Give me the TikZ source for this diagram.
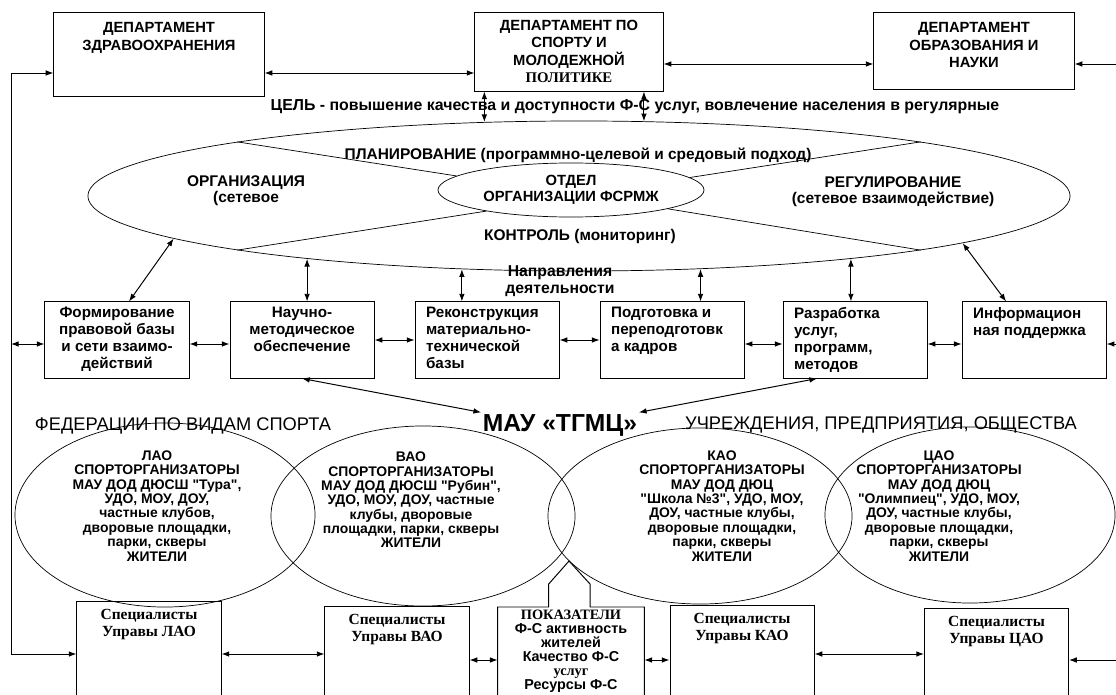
\documentclass[tikz,border=0pt]{standalone}
\usepackage{fontspec}
\setmainfont{Liberation Sans}[Ligatures=TeXOff]
\newfontfamily\timesfont{Liberation Serif}[Ligatures=TeXOff]
\usepackage{tikz}
\usetikzlibrary{shapes,arrows.meta,positioning}
\tikzset{
    dept/.style = {rectangle, draw, line width=0.7pt, minimum width=5cm, minimum height=1.9cm, inner sep=0pt},
    topic/.style = {rectangle, draw, line width=0.7pt, minimum width=3.6cm, minimum height=1.9cm, inner sep=0pt},
    staff/.style = {rectangle, draw, line width=0.7pt, minimum width=3.6cm, minimum height=2.6cm, anchor=north, inner sep=0pt},
    zone/.style = {ellipse, draw, line width=0.5pt, inner sep=0pt},
    depttext/.style = {font=\bfseries\fontsize{10.5}{12.5}\selectfont, align=center, inner sep=1pt},
    topictext/.style = {font=\bfseries\fontsize{10.8}{12}\selectfont, inner sep=1pt},
    zonetext/.style = {font=\bfseries\fontsize{9.9}{10.2}\selectfont, align=center, inner sep=0pt},
    stafftext/.style = {font=\timesfont\bfseries\fontsize{11}{12}\selectfont, align=center, inner sep=1pt},
    plaintext/.style = {font=\bfseries\fontsize{11}{11.5}\selectfont, align=center, inner sep=0pt},
    headtext/.style = {font=\fontsize{13}{15}\selectfont, inner sep=0pt},
    link/.style = {<->, line width=0.7pt},
    feed/.style = {->, line width=0.7pt}
}

\begin{document}
\begin{tikzpicture}[x=0.025cm, y=-0.025cm, >={Latex[length=5.5pt,width=4pt]}]
    \clip (0,0) rectangle (1116,695);

    % departments
    \node [dept, minimum width=5.25cm, minimum height=2.075cm] (zdrav) at (159,54.5) {};
    \node [dept, minimum width=4.7cm, minimum height=1.95cm] (sport) at (569,52) {};
    \node [dept] (obraz) at (974,51) {};
    \node [depttext, below=6pt of zdrav.north] (zdrav-t) {ДЕПАРТАМЕНТ\\ЗДРАВООХРАНЕНИЯ};
    \node [depttext, below=4pt of sport.north] (sport-t) {ДЕПАРТАМЕНТ ПО\\СПОРТУ И\\МОЛОДЕЖНОЙ\\{\timesfont ПОЛИТИКЕ}};
    \node [depttext, below=6pt of obraz.north] (obraz-t) {ДЕПАРТАМЕНТ\\ОБРАЗОВАНИЯ  И\\НАУКИ};

    \coordinate (frame-top) at (11,73);
    \coordinate (frame-bot) at (11,654);
    \coordinate (edge-a) at (1116,64);
    \coordinate (edge-b) at (1116,344);
    \coordinate (edge-c) at (1116,660);
    \coordinate (rowline) at (0,344);

    \draw [link] (zdrav.east |- frame-top) -- (sport.west |- frame-top);
    \draw [link] (sport.east |- edge-a) -- (obraz.west |- edge-a);
    \draw [feed] (edge-a) -- (obraz.east |- edge-a);
    \draw [feed] (frame-top) -- (zdrav.west |- frame-top);

    \node [plaintext, font=\bfseries\fontsize{11.3}{12}\selectfont] (goal) at (635,107) {ЦЕЛЬ - повышение качества  и доступности  Ф-С услуг, вовлечение населения в регулярные};

    % management ellipse
    \node [zone, minimum width=24.55cm, minimum height=3.75cm] (plan) at (579,196) {};
    \node [zone, minimum width=6.65cm, minimum height=1.35cm] (otdel) at (571,190) {};
    \draw [line width=0.5pt] (plan.171) -- (otdel.173);
    \draw [line width=0.5pt] (plan.189) -- (otdel.194);
    \draw [line width=0.5pt] (plan.9) -- (otdel.6);
    \draw [line width=0.5pt] (plan.351) -- (otdel.349);

    \node [plaintext] (plan-t) at (578,155) {ПЛАНИРОВАНИЕ (программно-целевой и средовый подход)};
    \node [plaintext] (org-t) at (246,191) {ОРГАНИЗАЦИЯ\\(сетевое};
    \node [plaintext, font=\bfseries\fontsize{10.5}{11.5}\selectfont] (otdel-t) at (571,190) {ОТДЕЛ\\ОРГАНИЗАЦИИ ФСРМЖ};
    \node [plaintext] (reg-t) at (893,192) {РЕГУЛИРОВАНИЕ\\(сетевое взаимодействие)};
    \node [plaintext] (kontr-t) at (580,237) {КОНТРОЛЬ (мониторинг)};

    \draw [link] (plan.142) -- (plan.142 |- sport.south);
    \draw [link] (plan.49) -- (plan.49 |- sport.south);

    % directions
    \node [topic] (form) at (117,340) {};
    \node [topic, right=1cm of form] (nauch) {};
    \node [topic, right=1cm of nauch] (rekon) {};
    \node [topic, right=1cm of rekon] (podg) {};
    \node [topic, right=0.95cm of podg] (razr) {};
    \node [topic, right=0.85cm of razr] (inf) {};

    \node [topictext, align=center, below=3pt of form.north] (form-t) {Формирование\\правовой базы\\и  сети взаимо-\\действий};
    \node [topictext, align=center, below=3pt of nauch.north] (nauch-t) {Научно-\\методическое\\обеспечение};
    \node [topictext, align=left, below right=3pt and 7pt of rekon.north west] (rekon-t) {Реконструкция\\материально-\\технической\\базы};
    \node [topictext, align=left, below right=3pt and 7pt of podg.north west] (podg-t) {Подготовка и\\переподготовк\\а кадров};
    \node [topictext, align=left, below right=3pt and 7pt of razr.north west] (razr-t) {Разработка\\услуг,\\программ,\\методов};
    \node [topictext, align=left, below right=3pt and 7pt of inf.north west] (inf-t) {Информацион\\ная поддержка};

    \node [plaintext, font=\bfseries\fontsize{11.2}{12}\selectfont] (naprav) at (560,281) {Направления\\деятельности};

    \draw [link] (plan.186) -- ([xshift=0.3cm]form.north);
    \draw [link] (plan.193) -- (plan.193 |- nauch.north);
    \draw [link] (plan.212) -- (plan.212 |- rekon.north);
    \draw [link] (plan.329) -- (plan.329 |- podg.north);
    \draw [link] (plan.347) -- (plan.347 |- razr.north);
    \draw [link] (plan.353) -- ([xshift=-0.7cm]inf.north);

    \draw [link] (frame-top |- rowline) -- (form.west |- rowline);
    \draw [link] (form.east |- rowline) -- (nauch.west |- rowline);
    \draw [link] (nauch) -- (rekon);
    \draw [link] (rekon) -- (podg);
    \draw [link] (podg.east |- rowline) -- (razr.west |- rowline);
    \draw [link] (razr.east |- rowline) -- (inf.west |- rowline);
    \draw [feed] (edge-b) -- (inf.east |- edge-b);

    % centre
    \node [font=\bfseries\fontsize{17.5}{19}\selectfont, inner sep=1pt] (mau) at (560,425) {МАУ «ТГМЦ»};
    \node [headtext] (fed) at (183,426) {ФЕДЕРАЦИИ ПО ВИДАМ СПОРТА};
    \node [headtext] (uchr) at (881,425) {УЧРЕЖДЕНИЯ,  ПРЕДПРИЯТИЯ, ОБЩЕСТВА};
    \draw [link] (nauch.south) -- (mau.north west);
    \draw [link] ([xshift=-0.95cm]razr.south) -- (mau.north east);

    % districts
    \node [zone, minimum width=7.5cm, minimum height=4.6cm] (lao) at (165,515) {};
    \node [zone, minimum width=7.6cm, minimum height=4.5cm] (vao) at (423,516) {};
    \node [zone, minimum width=7.6cm, minimum height=4.4cm] (kao) at (700,516) {};
    \node [zone, minimum width=7.25cm, minimum height=4.4cm] (cao) at (970,515) {};

    \node [zonetext] (lao-t) at (157,506) {ЛАО\\СПОРТОРГАНИЗАТОРЫ\\МАУ ДОД ДЮСШ "Тура",\\УДО, МОУ, ДОУ,\\частные  клубов,\\дворовые площадки,\\парки, скверы\\ЖИТЕЛИ};
    \node [zonetext] (vao-t) at (411,500) {ВАО\\СПОРТОРГАНИЗАТОРЫ\\МАУ ДОД ДЮСШ "Рубин",\\УДО, МОУ, ДОУ, частные\\клубы, дворовые\\площадки, парки, скверы\\ЖИТЕЛИ};
    \node [zonetext] (kao-t) at (722,506) {КАО\\СПОРТОРГАНИЗАТОРЫ\\МАУ ДОД  ДЮЦ\\"Школа №3", УДО, МОУ,\\ДОУ, частные  клубы,\\дворовые площадки,\\парки, скверы\\ЖИТЕЛИ};
    \node [zonetext] (cao-t) at (939,506) {ЦАО\\СПОРТОРГАНИЗАТОРЫ\\МАУ ДОД ДЮЦ\\"Олимпиец", УДО, МОУ,\\ДОУ, частные  клубы,\\дворовые площадки,\\парки, скверы\\ЖИТЕЛИ};

    % district staff
    \node [staff] (lao-s) at (149,601) {};
    \node [staff] (vao-s) at (397,606) {};
    \node [staff] (kao-s) at (742,605) {};
    \node [staff] (cao-s) at (996.5,608) {};
    \node [stafftext, below=5pt of lao-s.north] (lao-st) {Специалисты\\Управы ЛАО};
    \node [stafftext, below=5pt of vao-s.north] (vao-st) {Специалисты\\Управы ВАО};
    \node [stafftext, below=5pt of kao-s.north] (kao-st) {Специалисты\\Управы КАО};
    \node [stafftext, below=5pt of cao-s.north] (cao-st) {Специалисты\\Управы ЦАО};

    \node [anchor=north, minimum width=3.65cm, minimum height=2.5cm, inner sep=0pt] (pokaz) at (571,607) {};
    \coordinate (pokaz-tip) at (569,561);
    \draw [line width=0.7pt] (pokaz.south west) -- (pokaz.north west) -- ++(51,0) -- ++(0,-23) -- (pokaz-tip)
        -- (590,584) -- (590,607) -- (pokaz.north east) -- (pokaz.south east);
    \node [font=\bfseries\fontsize{10.2}{9.9}\selectfont, align=center, inner sep=0pt, below=2pt of pokaz.north] (pokaz-t)
        {{\timesfont ПОКАЗАТЕЛИ}\\Ф-С активность\\жителей\\Качество Ф-С\\{\timesfont услуг}\\Ресурсы Ф-С};

    \coordinate (botline) at (0,654);
    \coordinate (midline) at (0,660);
    \draw [feed] (frame-top) |- (lao-s.west |- frame-bot);
    \draw [link] (lao-s.east |- botline) -- (vao-s.west |- botline);
    \draw [link] (vao-s.east |- midline) -- (pokaz.west |- midline);
    \draw [link] (pokaz.east |- midline) -- (kao-s.west |- midline);
    \draw [link] (kao-s.east |- botline) -- (cao-s.west |- botline);
    \draw [feed] (edge-c) -- (cao-s.east |- edge-c);
\end{tikzpicture}
\end{document}
